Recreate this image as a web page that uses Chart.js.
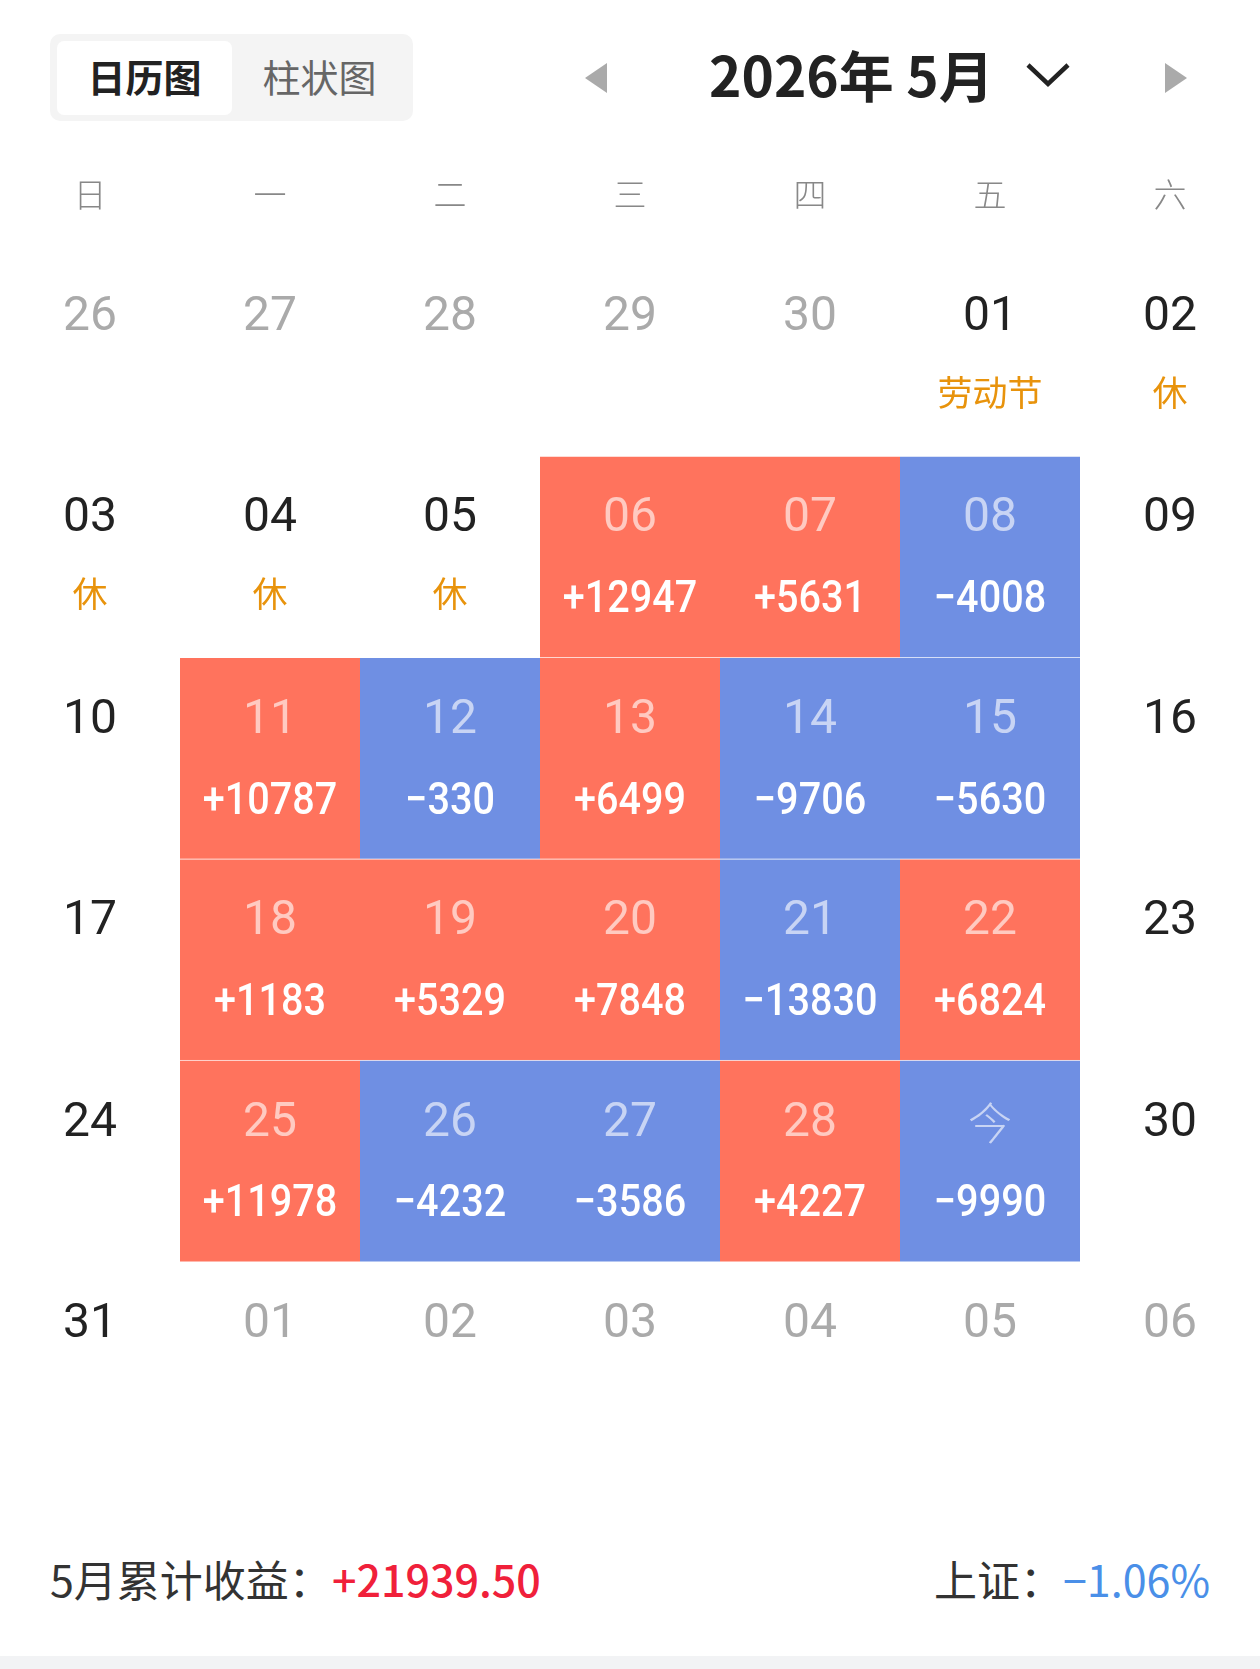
<!DOCTYPE html>
<html lang="zh-CN">
<head>
<meta charset="utf-8">
<title>2026年5月 收益日历</title>
<script src="https://cdn.jsdelivr.net/npm/chart.js@4.4.1/dist/chart.umd.min.js"></script>
<style>
  html, body { margin: 0; padding: 0; background: #fff; }
  body { width: 1260px; height: 1669px; position: relative; overflow: hidden;
         font-family: "Noto Sans CJK SC", "Noto Sans", sans-serif; }
  .toggle { position: absolute; left: 50px; top: 34px; width: 363px; height: 87px;
            background: #f4f4f4; border-radius: 10px; }
  .toggle .on { position: absolute; left: 7px; top: 7px; width: 175px; height: 74px;
                background: #fff; border-radius: 7px; }
  .toggle span { position: absolute; top: -2px; height: 87px; line-height: 87px; font-size: 38px; }
  .toggle .t1 { left: 7px; width: 175px; text-align: center; font-weight: 700; color: #222; }
  .toggle .t2 { left: 182px; width: 175px; text-align: center; color: #666; }
  .tri { position: absolute; top: 63px; width: 0; height: 0;
         border-top: 15px solid transparent; border-bottom: 15px solid transparent; }
  .tri.l { left: 585px; border-right: 22px solid #aaa; }
  .tri.r { left: 1165px; border-left: 22px solid #aaa; }
  .title { position: absolute; left: 709px; top: 35px; width: 305px; height: 76px; line-height: 76px;
           font-size: 55px; font-weight: 700; color: #222; }
  .chev { position: absolute; left: 1025px; top: 60px; }
  #wrap { position: absolute; left: 0; top: 135px; width: 1260px; height: 1328px; }
  .foot { position: absolute; top: 1548px; height: 60px; line-height: 60px; font-size: 43px; color: #333; }
  .foot.l { left: 50px; }
  .foot.r { right: 50px; }
  .foot .red { color: #f0203a; font-weight: 500; font-size: 43px; }
  .foot .blue { color: #4a8fe8; font-weight: 400; font-size: 43px; }
  .band { position: absolute; left: 0; top: 1656px; width: 1260px; height: 13px; background: #f2f3f5; }
</style>
</head>
<body>
<div class="toggle"><div class="on"></div><span class="t1">日历图</span><span class="t2">柱状图</span></div>
<div class="tri l"></div>
<div class="title">2026年 5月</div>
<svg class="chev" width="50" height="30"><polyline points="3,5 23,24 43,5" fill="none" stroke="#222" stroke-width="4.5"/></svg>
<div class="tri r"></div>
<div id="wrap"><canvas id="cal"></canvas></div>
<div class="foot l">5月累计收益：<span class="red">+21939.50</span></div>
<div class="foot r">上证：<span class="blue">−1.06%</span></div>
<div class="band"></div>

<script>
// weekday column labels (Sunday first)
const weekdays = ['日', '一', '二', '三', '四', '五', '六'];

// visible grid: tail of April, all of May, head of June
const prevMonthDays = [26, 27, 28, 29, 30];
const monthDays = 31;
const nextMonthDays = [1, 2, 3, 4, 5, 6];

// trading days in May and their daily profit / loss
const tradeDays = [6, 7, 8, 11, 12, 13, 14, 15, 18, 19, 20, 21, 22, 25, 26, 27, 28, 29];
const dailyPnl = [12947, 5631, -4008, 10787, -330, 6499, -9706, -5630, 1183, 5329, 7848, -13830, 6824, 11978, -4232, -3586, 4227, -9990];
const todayDay = 29;

// holiday notes
const holidayDays = [1, 2, 3, 4, 5];
const holidayLabels = ['劳动节', '休', '休', '休', '休'];

const UP = '#ff735d';
const DOWN = '#6f8fe3';

// build the 42 cells of the grid
const cells = [];
prevMonthDays.forEach(d => cells.push({ day: d, inMonth: false }));
for (let d = 1; d <= monthDays; d++) cells.push({ day: d, inMonth: true });
nextMonthDays.forEach(d => cells.push({ day: d, inMonth: false }));
cells.forEach((c, i) => { c.col = i % 7; c.row = Math.floor(i / 7); });

function cellOf(day) {
    return cells.find(c => c.inMonth && c.day === day);
}

// one floating bar per trading day, spanning its row
const barData = tradeDays.map((d, i) => {
    const c = cellOf(d);
    return { x: weekdays[c.col], y: [c.row, c.row + 1], v: dailyPnl[i], day: d };
});

const pad2 = n => (n < 10 ? '0' : '') + n;
const fmt = v => (v >= 0 ? '+' : '−') + Math.abs(v);

const cellText = {
    id: 'cellText',
    afterDatasetsDraw(chart) {
        const { ctx, scales: { x, y } } = chart;
        const rowH = Math.abs(y.getPixelForValue(1) - y.getPixelForValue(0));
        ctx.save();
        ctx.textAlign = 'center';
        ctx.textBaseline = 'middle';
        cells.forEach(c => {
            const cx = x.getPixelForValue(c.col);
            const top = y.getPixelForValue(c.row);
            const idx = c.inMonth ? tradeDays.indexOf(c.day) : -1;
            // day number
            let label = pad2(c.day);
            if (c.inMonth && c.day === todayDay) label = '今';
            if (idx >= 0) ctx.fillStyle = 'rgba(255,255,255,0.62)';
            else ctx.fillStyle = c.inMonth ? '#222' : '#aaa';
            ctx.font = label === '今' ? '300 44px "Noto Sans CJK SC"' : '400 48px Roboto, sans-serif';
            ctx.fillText(label, cx, top + rowH * 0.315);
            // value or holiday tag (numbers narrowed a bit, like the app's condensed digits)
            if (idx >= 0) {
                ctx.fillStyle = '#fff';
                ctx.font = '500 45px Roboto, sans-serif';
                ctx.save();
                ctx.translate(cx, top + rowH * 0.72);
                ctx.scale(0.88, 1);
                ctx.fillText(fmt(dailyPnl[idx]), 0, 0);
                ctx.restore();
            } else if (c.inMonth && holidayDays.includes(c.day)) {
                ctx.fillStyle = '#e8930c';
                ctx.font = '400 35px "Noto Sans CJK SC"';
                ctx.fillText(holidayLabels[holidayDays.indexOf(c.day)], cx, top + rowH * 0.685);
            }
        });
        ctx.restore();
    }
};

new Chart(document.getElementById('cal'), {
    type: 'bar',
    data: {
        labels: weekdays,
        datasets: [{
            data: barData,
            backgroundColor: barData.map(b => (b.v >= 0 ? UP : DOWN)),
            borderColor: 'rgba(255,255,255,0.25)',
            borderWidth: { top: 1, bottom: 0, left: 0, right: 0 },
            borderSkipped: false,
            barPercentage: 1,
            categoryPercentage: 1
        }]
    },
    options: {
        responsive: true,
        maintainAspectRatio: false,
        animation: false,
        layout: { padding: 0 },
        plugins: { legend: { display: false }, tooltip: { enabled: false } },
        scales: {
            x: {
                position: 'top',
                grid: { display: false, drawTicks: false },
                border: { display: false },
                ticks: { color: '#888', padding: 40, font: { size: 33, weight: 300, family: '"Noto Sans CJK SC"' } }
            },
            y: { display: false, min: 0, max: 6, reverse: true }
        }
    },
    plugins: [cellText]
});
</script>
</body>
</html>
